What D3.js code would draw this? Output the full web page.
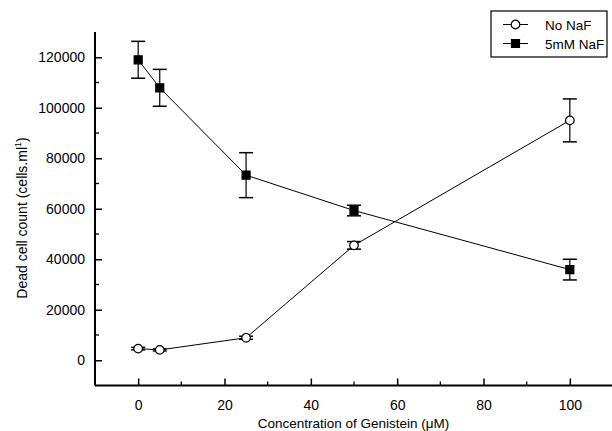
<!DOCTYPE html>
<html>
<head>
<meta charset="utf-8">
<script src="https://cdn.jsdelivr.net/npm/d3@7"></script>
<style>
  body { margin: 0; background: #fff; }
  text { font-family: "Liberation Sans", Arial, sans-serif; fill: #000; }
</style>
</head>
<body>
<svg id="chart" width="612" height="431"></svg>
<script>
// concentrations (uM)
var conc = [0, 5, 25, 50, 100];
// dead cell counts, cells per ml
var noNaF = [4600, 4100, 8900, 45500, 95000];
var noNaFErr = [500, 400, 600, 1500, 8500];
var naF5 = [119000, 107900, 73300, 59300, 35900];
var naF5Err = [7300, 7300, 8900, 2100, 4100];
var xTicks = [0, 20, 40, 60, 80, 100];
var yTicks = [0, 20000, 40000, 60000, 80000, 100000, 120000];
var seriesNames = ['No NaF', '5mM NaF'];

var svg = d3.select('#chart');

var x = d3.scaleLinear().domain([-10, 110]).range([95, 613]);
var y = d3.scaleLinear().domain([-10000, 130000]).range([385.5, 32]);

// axes, ticks pointing inward
var xAxis = d3.axisBottom(x).tickValues(xTicks).tickSize(-7).tickPadding(15).tickFormat(d3.format('d'));
var yAxis = d3.axisLeft(y).tickValues(yTicks).tickSize(-7).tickPadding(10).tickFormat(d3.format('d'));

var gx = svg.append('g').attr('transform', 'translate(0,' + y.range()[0] + ')').call(xAxis);
var gy = svg.append('g').attr('transform', 'translate(' + x.range()[0] + ',0)').call(yAxis);

// minor ticks
gx.selectAll('.minor').data(d3.range(10, 100, 20)).enter().append('line')
  .attr('x1', function(d){ return x(d); }).attr('x2', function(d){ return x(d); })
  .attr('y1', 0).attr('y2', -4).attr('stroke', '#000').attr('stroke-width', 1.3);
gy.selectAll('.minor').data(d3.range(10000, 130000, 20000)).enter().append('line')
  .attr('y1', function(d){ return y(d); }).attr('y2', function(d){ return y(d); })
  .attr('x1', 0).attr('x2', 4).attr('stroke', '#000').attr('stroke-width', 1.3);

[gx, gy].forEach(function(g){
  g.select('.domain').attr('stroke-width', 2);
  g.selectAll('.tick line').attr('stroke-width', 1.5);
  g.selectAll('.tick text').style('font-size', '14px').style('font-family', '"Liberation Sans", Arial, sans-serif');
});
gy.select('.domain').attr('d', 'M0,' + y.range()[1] + 'V' + y.range()[0]);
gx.select('.domain').attr('d', 'M' + x.range()[0] + ',0H' + x.range()[1]);

// axis titles
svg.append('text').attr('x', 353.5).attr('y', 428)
  .attr('text-anchor', 'middle').style('font-size', '13.5px')
  .text('Concentration of Genistein (\u03bcM)');

var yl = svg.append('text').attr('transform', 'translate(27,218) rotate(-90)')
  .attr('text-anchor', 'middle').style('font-size', '14px');
yl.append('tspan').text('Dead cell count (cells.ml');
yl.append('tspan').attr('dy', -6).style('font-size', '9px').text('1');
yl.append('tspan').attr('dy', 6).text(')');

function drawSeries(vals, errs, shape) {
  var g = svg.append('g');
  var pts = conc.map(function(c, i){ return {x: c, y: vals[i], e: errs[i]}; });
  g.append('path').datum(pts)
    .attr('fill', 'none').attr('stroke', '#000').attr('stroke-width', 1)
    .attr('d', d3.line().x(function(d){ return x(d.x); }).y(function(d){ return y(d.y); }));
  var eb = g.selectAll('.err').data(pts).enter().append('g');
  eb.append('line')
    .attr('x1', function(d){ return x(d.x); }).attr('x2', function(d){ return x(d.x); })
    .attr('y1', function(d){ return y(d.y + d.e); }).attr('y2', function(d){ return y(d.y - d.e); })
    .attr('stroke', '#000').attr('stroke-width', 1.2);
  [1, -1].forEach(function(s){
    eb.append('line')
      .attr('x1', function(d){ return x(d.x) - 7; }).attr('x2', function(d){ return x(d.x) + 7; })
      .attr('y1', function(d){ return y(d.y + s * d.e); }).attr('y2', function(d){ return y(d.y + s * d.e); })
      .attr('stroke', '#000').attr('stroke-width', 1.5);
  });
  g.selectAll('.mk').data(pts).enter().append('path')
    .attr('transform', function(d){ return 'translate(' + x(d.x) + ',' + y(d.y) + ')'; })
    .attr('d', shape.d)
    .attr('fill', shape.fill).attr('stroke', '#000').attr('stroke-width', 1.2);
}

var circle = {d: d3.symbol(d3.symbolCircle, 58)(), fill: '#fff'};
var square = {d: d3.symbol(d3.symbolSquare, 64)(), fill: '#000'};

drawSeries(noNaF, noNaFErr, circle);
drawSeries(naF5, naF5Err, square);

// legend
var lg = svg.append('g');
lg.append('rect').attr('x', 491).attr('y', 11).attr('width', 116).attr('height', 46)
  .attr('fill', '#fff').attr('stroke', '#000').attr('stroke-width', 1.2);
var shapes = [circle, square];
seriesNames.forEach(function(name, i){
  var ry = 24.5 + i * 19;
  lg.append('line').attr('x1', 503).attr('x2', 528).attr('y1', ry).attr('y2', ry)
    .attr('stroke', '#000').attr('stroke-width', 1);
  lg.append('path').attr('transform', 'translate(515.5,' + ry + ')')
    .attr('d', shapes[i].d).attr('fill', shapes[i].fill).attr('stroke', '#000').attr('stroke-width', 1.2);
  lg.append('text').attr('x', 545).attr('y', ry + 5).style('font-size', '13.5px').text(name);
});
</script>
</body>
</html>
